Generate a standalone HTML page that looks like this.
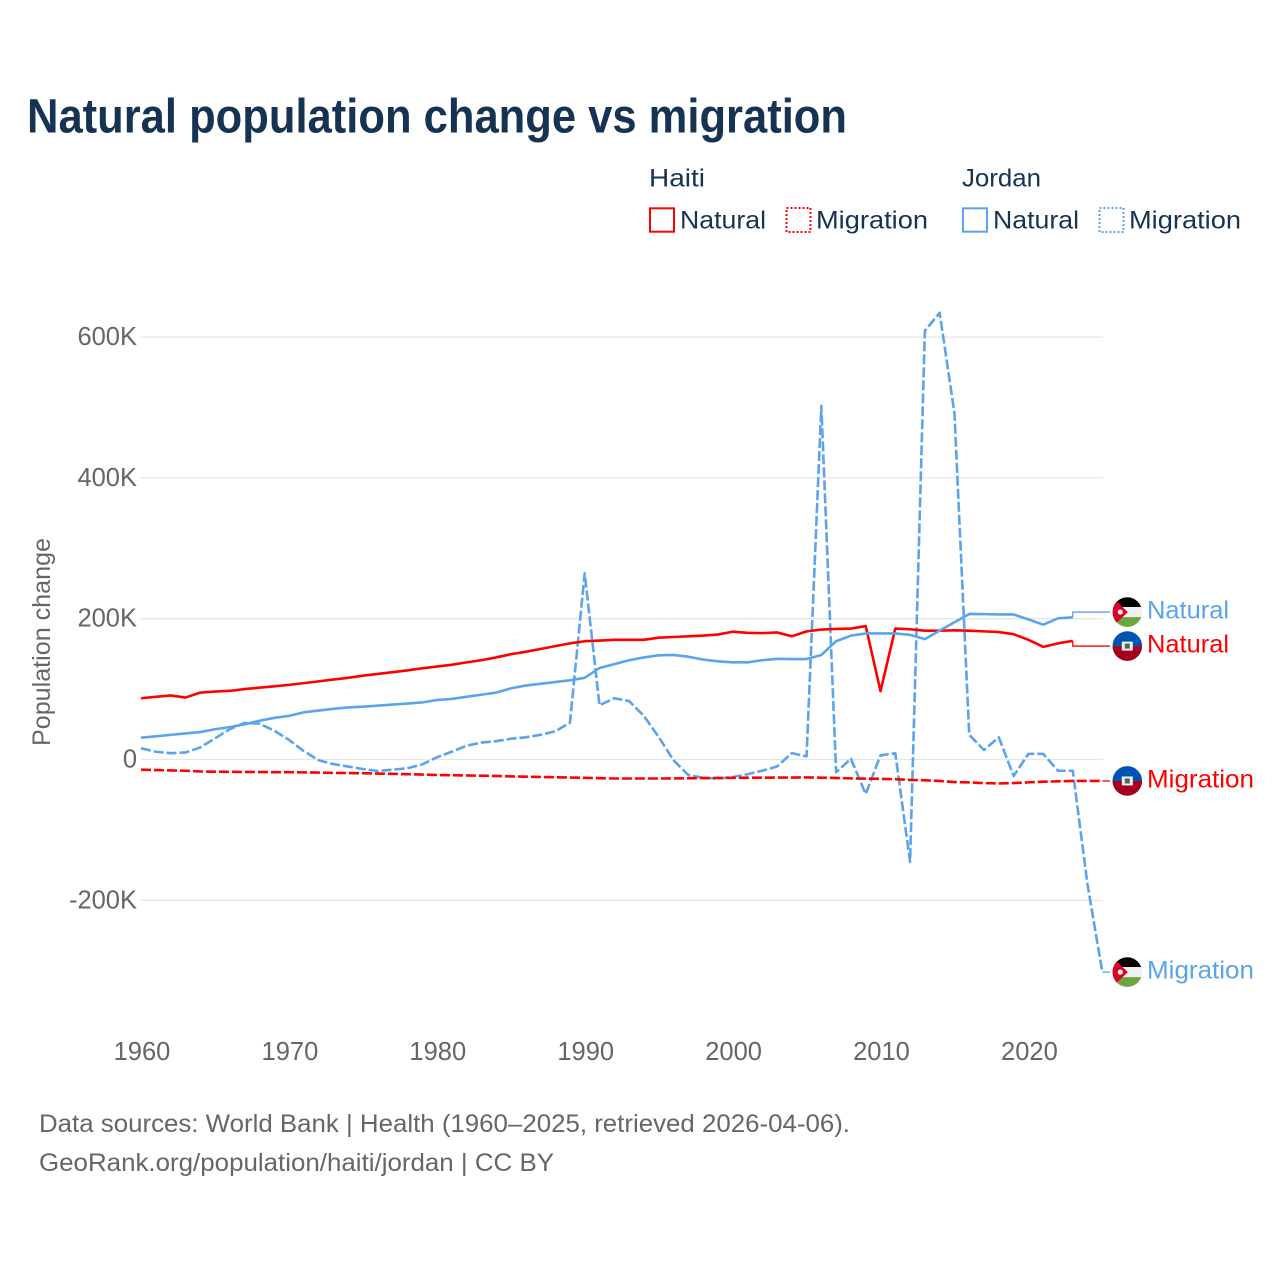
<!DOCTYPE html>
<html lang="en">
<head>
<meta charset="utf-8">
<title>Natural population change vs migration</title>
<style>
html,body{margin:0;padding:0;background:#fff}
svg{display:block}
text{font-family:"Liberation Sans",Arial,sans-serif}
</style>
</head>
<body>
<svg id="chart" xmlns="http://www.w3.org/2000/svg" width="1280" height="1280" viewBox="0 0 1280 1280">
  <defs>
    <clipPath id="flag-clip"><circle r="14.8"></circle></clipPath>
  </defs>
  <rect width="1280" height="1280" fill="#ffffff"></rect>
  <text x="27" y="132.7" font-size="48" font-weight="700" fill="#163354" textLength="820" lengthAdjust="spacingAndGlyphs">Natural population change vs migration</text>

  <g font-size="25" fill="#163354">
    <text x="649" y="186.5" textLength="56" lengthAdjust="spacingAndGlyphs">Haiti</text>
    <text x="962" y="186.5" textLength="79" lengthAdjust="spacingAndGlyphs">Jordan</text>
    <rect x="650" y="208.3" width="24" height="23.4" fill="none" stroke="#ff0000" stroke-width="2"></rect>
    <text x="680" y="228.7" textLength="86" lengthAdjust="spacingAndGlyphs">Natural</text>
    <rect x="786.5" y="208" width="24" height="24" fill="none" stroke="#ff0000" stroke-width="2" stroke-dasharray="2 2"></rect>
    <text x="816" y="228.7" textLength="112" lengthAdjust="spacingAndGlyphs">Migration</text>
    <rect x="963" y="208.3" width="24" height="23.4" fill="none" stroke="#5ba4ec" stroke-width="2"></rect>
    <text x="993" y="228.7" textLength="86" lengthAdjust="spacingAndGlyphs">Natural</text>
    <rect x="1099.5" y="208" width="24" height="24" fill="none" stroke="#5ba4ec" stroke-width="2" stroke-dasharray="2 2"></rect>
    <text x="1129" y="228.7" textLength="112" lengthAdjust="spacingAndGlyphs">Migration</text>
  </g>

  <g id="grid"></g>
  <g id="y-axis"></g>
  <g id="x-axis"></g>
  <text transform="translate(50,642) rotate(-90)" text-anchor="middle" font-size="25" fill="#666666" textLength="208" lengthAdjust="spacingAndGlyphs">Population change</text>
  <g id="series"></g>
  <g id="end-labels"></g>

  <text x="39" y="1132" font-size="25" fill="#666666" textLength="811" lengthAdjust="spacingAndGlyphs">Data sources: World Bank | Health (1960–2025, retrieved 2026-04-06).</text>
  <text x="39" y="1171" font-size="25" fill="#666666" textLength="515" lengthAdjust="spacingAndGlyphs">GeoRank.org/population/haiti/jordan | CC BY</text>
</svg>

<script>
const startYear = 1960;
const yTicks = [-200, 0, 200, 400, 600];
const xTicks = [1960, 1970, 1980, 1990, 2000, 2010, 2020];

// values in thousands, one per year from 1960
const haitiNatural = [87,89,91,88,95,96.5,97.5,100,102,104,106,108.5,111,113.5,116,119,121.5,124,126.5,129.5,132,134.5,138,141,145,149.5,153,157,161,165,168,169,170,170,170,173,174,175,176,177.5,181.5,180,179.5,180.5,175,182,184.5,185.5,186,189.5,97,186,185,183,183,183.5,183,182,181,178,170,160,165,168.5];
const haitiMigration = [-14.5,-15,-15.5,-16,-17,-17.3,-17.5,-17.7,-17.8,-18,-18,-18.3,-18.6,-19,-19.2,-19.5,-20,-20.4,-20.8,-21.4,-22,-22.3,-22.7,-23,-23.4,-24,-24.4,-24.8,-25.2,-25.6,-26,-26.5,-27,-27,-27,-27,-26.8,-26.6,-26.4,-26.2,-26,-25.9,-25.8,-25.7,-25.6,-25.5,-25.8,-26.2,-26.8,-27.2,-27.5,-28,-29,-29.5,-30.5,-32,-32.5,-33.5,-34,-33.5,-32.5,-31.5,-31,-30.5,-30.5,-30.5];
const jordanNatural = [31,33,35,37,39,43,46,50,55,59,62,67,69.5,72,74,75,76.5,78,79.5,81,84.5,86,89,92,95,101,105,107.5,110,112.5,116,130,135.5,141,145,148,148.5,146,142,139.5,138,138,141,143,142.7,142.7,148.5,168,176,179,179,179,177,171,183,195,206.7,206.5,206,206,199,191.5,200.5,202];
const jordanMigration = [16,11,9,10,17,30,43,52,51,41,28,12,-1,-6.5,-10,-13.5,-16.3,-14.5,-12.5,-7,3,11,19.5,24,26,29.5,31.5,35,40,52,264.5,77,87,83,62,32,-1,-22,-26,-27,-25,-21,-16,-10,9,4.5,502.5,-18,1,-49,6,8.8,-145.5,609,634.5,492,35,13.5,31.5,-23.5,8,8,-16,-16,-178,-302];

const svgNS = 'http://www.w3.org/2000/svg';
const xScale = function (year) { return 141 + (year - 1960) * 14.79; };
const yScale = function (value) { return 759.5 - value * 0.704; };
const byId = function (id) { return document.getElementById(id); };
const make = function (tag, parent) {
  const el = document.createElementNS(svgNS, tag);
  parent.appendChild(el);
  return el;
};
const tickText = function (v) { return v === 0 ? '0' : v + 'K'; };

yTicks.forEach(function (v) {
  const line = make('line', byId('grid'));
  
  
  line.setAttribute('x1', 141);
  line.setAttribute('x2', 1103);
  line.setAttribute('y1', yScale(v));
  line.setAttribute('y2', yScale(v));
  line.setAttribute('stroke', '#e6e6e6');
  line.setAttribute('stroke-width', 1.3);
  const label = make('text', byId('y-axis'));
  
  
  label.setAttribute('x', 137);
  label.setAttribute('y', yScale(v) + 8);
  label.setAttribute('text-anchor', 'end');
  label.setAttribute('font-size', 25.5);
  label.setAttribute('fill', '#666666');
  label.textContent = tickText(v);
});

xTicks.forEach(function (year) {
  const label = make('text', byId('x-axis'));
  
  
  label.setAttribute('x', xScale(year) + 1);
  label.setAttribute('y', 1060);
  label.setAttribute('text-anchor', 'middle');
  label.setAttribute('font-size', 25.5);
  label.setAttribute('fill', '#666666');
  label.textContent = String(year);
});

const RED = '#ff0000';
const BLUE = '#5ba4ec';
const seriesList = [
  { key: 'jordan-migration', values: jordanMigration, color: BLUE, dashed: true, country: 'jordan', label: 'Migration', labelWidth: 107 },
  { key: 'haiti-migration', values: haitiMigration, color: RED, dashed: true, country: 'haiti', label: 'Migration', labelWidth: 107 },
  { key: 'haiti-natural', values: haitiNatural, color: RED, dashed: false, country: 'haiti', label: 'Natural', labelWidth: 82 },
  { key: 'jordan-natural', values: jordanNatural, color: BLUE, dashed: false, country: 'jordan', label: 'Natural', labelWidth: 82 }
];

seriesList.forEach(function (s) {
  const pts = s.values.map(function (v, i) {
    return xScale(startYear + i).toFixed(2) + ',' + yScale(v).toFixed(2);
  });
  const path = make('polyline', byId('series'));
  
  
  path.setAttribute('points', pts.join(' '));
  path.setAttribute('fill', 'none');
  path.setAttribute('stroke', s.color);
  path.setAttribute('stroke-width', 2.6);
  path.setAttribute('stroke-linejoin', 'round');
  if (s.dashed) { path.setAttribute('stroke-dasharray', '10 3'); }
});

// end labels: dodge labels that would collide
const MIN_GAP = 34;
const ends = seriesList.map(function (s) {
  const lastIndex = s.values.length - 1;
  const endY = yScale(s.values[lastIndex]);
  return { s: s, endX: xScale(startYear + lastIndex), endY: endY, y: endY };
}).sort(function (a, b) { return a.endY - b.endY; });
for (let i = 1; i < ends.length; i++) {
  const gap = ends[i].y - ends[i - 1].y;
  if (gap < MIN_GAP) {
    const mid = (ends[i].y + ends[i - 1].y) / 2;
    ends[i - 1].y = mid - MIN_GAP / 2;
    ends[i].y = mid + MIN_GAP / 2;
  }
}

const drawFlag = function (g, country) {
  const rects = country === 'jordan'
    ? [[-15, -15, 30, 10, '#000000'], [-15, -5, 30, 10, '#f0f0f0'], [-15, 5, 30, 10, '#6da544']]
    : [[-15, -15, 30, 15, '#0052b4'], [-15, 0, 30, 15, '#a2001d']];
  rects.forEach(function (r) {
    const stripe = make('rect', g);
    
    
    stripe.setAttribute('x', r[0]);
    stripe.setAttribute('y', r[1]);
    stripe.setAttribute('width', r[2]);
    stripe.setAttribute('height', r[3]);
    stripe.setAttribute('fill', r[4]);
  });
  if (country === 'jordan') {
    const tri = make('polygon', g);
    
    
    tri.setAttribute('points', '-15,-15 0.5,0 -15,15');
    tri.setAttribute('fill', '#d80027');
    const star = make('circle', g);
    
    
    star.setAttribute('cx', -7);
    star.setAttribute('cy', 0);
    star.setAttribute('r', 2.6);
    star.setAttribute('fill', '#f0f0f0');
  } else {
    const box = make('rect', g);
    
    
    box.setAttribute('x', -5.5);
    box.setAttribute('y', -4.5);
    box.setAttribute('width', 11);
    box.setAttribute('height', 9);
    box.setAttribute('fill', '#f0f0f0');
    const emblem = make('rect', g);
    
    
    emblem.setAttribute('x', -2.5);
    emblem.setAttribute('y', -2.5);
    emblem.setAttribute('width', 5);
    emblem.setAttribute('height', 5);
    emblem.setAttribute('fill', '#4a6a60');
  }
};

ends.forEach(function (e) {
  const s = e.s;
  const conn = make('polyline', byId('end-labels'));
  
  
  conn.setAttribute('points', e.endX + ',' + e.endY + ' ' + e.endX + ',' + e.y + ' 1110,' + e.y);
  conn.setAttribute('fill', 'none');
  conn.setAttribute('stroke', s.color);
  conn.setAttribute('stroke-width', 1.3);
  const flag = make('g', byId('end-labels'));
  
  
  flag.setAttribute('transform', 'translate(1127.3,' + e.y + ')');
  const inner = make('g', flag);
  
  
  inner.setAttribute('clip-path', 'url(#flag-clip)');
  drawFlag(inner, s.country);
  const text = make('text', byId('end-labels'));
  
  
  text.setAttribute('x', 1147);
  text.setAttribute('y', e.y + 6.5);
  text.setAttribute('font-size', 25);
  text.setAttribute('fill', s.color);
  text.setAttribute('textLength', s.labelWidth);
  text.setAttribute('lengthAdjust', 'spacingAndGlyphs');
  text.textContent = s.label;
});
</script>
</body>
</html>
